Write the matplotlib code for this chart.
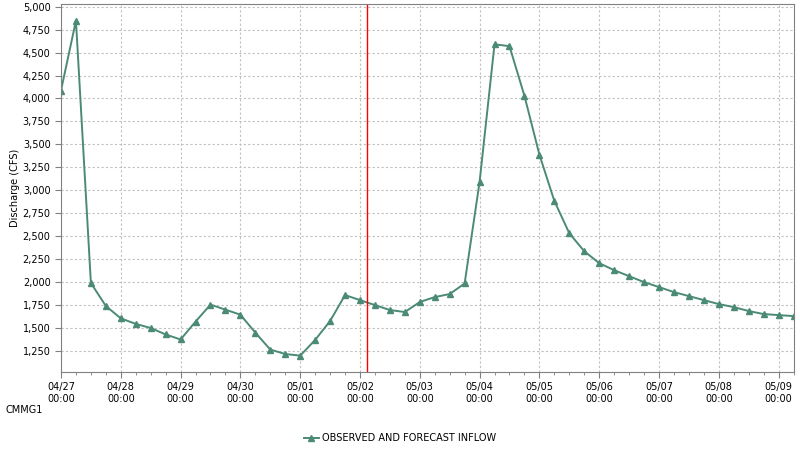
import matplotlib
matplotlib.use("Agg")
import matplotlib.pyplot as plt
import matplotlib.dates as mdates
import pandas as pd

# Data (6-hourly inflow, CFS)
start = "2024-04-27 00:00"
inflow = [4087, 4848, 1990, 1740, 1605, 1545, 1500, 1430, 1375, 1570,
          1755, 1700, 1645, 1450, 1265, 1217, 1199, 1370, 1576, 1859,
          1804, 1750, 1696, 1674, 1783, 1837, 1870, 1985, 3090, 4590,
          4570, 4030, 3390, 2885, 2533, 2337, 2207, 2130, 2065, 2000,
          1946, 1891, 1848, 1804, 1761, 1728, 1685, 1652, 1641, 1630]
now_time = pd.Timestamp("2024-05-02 02:40")
station = "CMMG1"
series_name = "OBSERVED AND FORECAST INFLOW"
y_label = "Discharge (CFS)"

times = pd.date_range(start, periods=len(inflow), freq="6h")
df = pd.DataFrame({"t": times, "q": inflow})

plt.rcParams["font.family"] = "DejaVu Sans"
plt.rcParams["font.size"] = 7

fig = plt.figure(figsize=(8, 4.5), dpi=100)
ax = fig.add_axes([61/800, 1-372/450, (793.5-61)/800, (372-4.3)/450])

green = "#4b8a76"
ax.plot(df["t"], df["q"], color=green, linewidth=1.4, marker="^", markersize=4.5,
        label=series_name)
ax.axvline(now_time, color="red", linewidth=1)

ax.set_xlim(times[0], times[-1])
ax.set_ylim(1021, 5026)

ax.xaxis.set_major_locator(mdates.DayLocator())
ax.xaxis.set_major_formatter(mdates.DateFormatter("%m/%d\n%H:%M"))
ax.xaxis.set_minor_locator(mdates.HourLocator(byhour=[6, 12, 18]))
ax.yaxis.set_major_locator(plt.MultipleLocator(250))
ax.yaxis.set_major_formatter(plt.FuncFormatter(lambda v, p: f"{v:,.0f}"))

ax.grid(True, color="#c0c0c0", linestyle=(0, (2, 2)), linewidth=0.8)
for s in ax.spines.values():
    s.set_color("#808080")
ax.tick_params(axis="both", which="major", length=4, color="#808080", labelsize=7)
ax.tick_params(axis="x", which="minor", length=2, color="#808080")
ax.set_ylabel(y_label, fontsize=7, labelpad=2)

fig.text(5/800, 1-410/450, station, fontsize=7, va="center")
fig.legend(loc="center", bbox_to_anchor=(0.5, 1-438/450), frameon=False,
           fontsize=7, handlelength=1.5, handletextpad=0.3)

fig.savefig("out.png", dpi=100)
